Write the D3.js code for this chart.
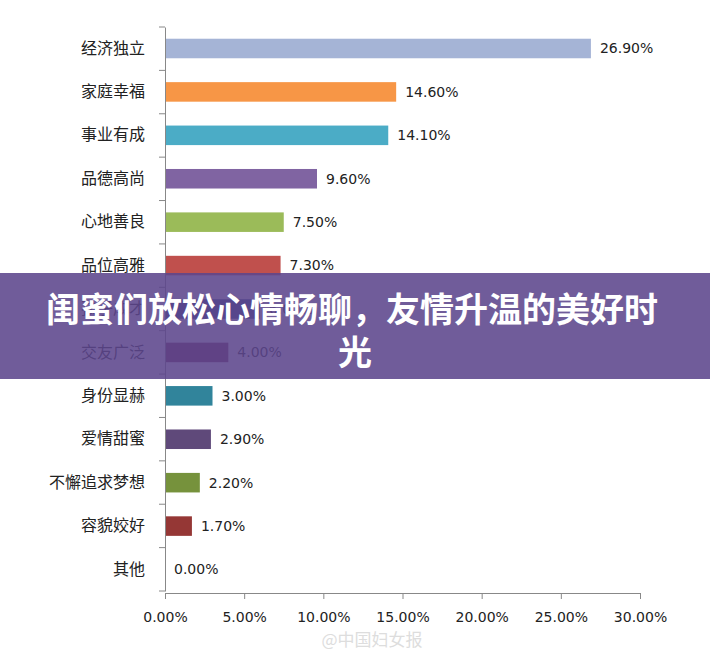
<!DOCTYPE html><html><head><meta charset="utf-8"><script src="https://cdn.jsdelivr.net/npm/d3@7"></script>
<style>body{margin:0;background:#fff;font-family:"Noto Sans CJK SC",sans-serif}</style></head><body><svg id="c" width="710" height="655"></svg>
<script>
const categories=["经济独立","家庭幸福","事业有成","品德高尚","心地善良","品位高雅","孩子成才","交友广泛","身份显赫","爱情甜蜜","不懈追求梦想","容貌姣好","其他"];
const values=[26.9,14.6,14.1,9.6,7.5,7.3,6.0,4.0,3.0,2.9,2.2,1.7,0.0];
const colors=["#a5b4d6","#f79646","#4bacc6","#8064a2","#9bbb59","#c0504d","#2c4d8f","#7a2f50","#31849b","#5f497a","#76923c","#953735","#999"];
const ticks=[0,5,10,15,20,25,30];
const svg=d3.select("#c");
const x=d3.scaleLinear().domain([0,30]).range([165,640]);
const y=d3.scaleBand().domain(categories).range([27,591]).paddingInner(0.55).paddingOuter(0.27);
const g=svg.append("g");
g.selectAll("rect.b").data(values).join("rect").attr("x",x(0)).attr("y",(d,i)=>y(categories[i])).attr("width",d=>x(d)-x(0)).attr("height",y.bandwidth()).attr("fill",(d,i)=>colors[i]);
g.selectAll("text.v").data(values).join("text").attr("x",d=>x(d)+9).attr("y",(d,i)=>y(categories[i])+y.bandwidth()/2).attr("dy","0.35em").attr("font-size",14).attr("font-family","DejaVu Sans, sans-serif").attr("fill","#222").text(d=>d.toFixed(2)+"%");
const ya=d3.axisLeft(y).tickSize(0).tickPadding(20);
const ay=svg.append("g").attr("transform","translate(165,0)").call(ya);
ay.select(".domain").attr("stroke","#888");
ay.selectAll("text").attr("font-size",16).attr("fill","#222").attr("font-family","Noto Sans CJK SC");
const step=(591-27)/13;
svg.selectAll("line.t").data(d3.range(14)).join("line").attr("x1",159).attr("x2",165).attr("y1",d=>27+d*step).attr("y2",d=>27+d*step).attr("stroke","#888");
const xa=d3.axisBottom(x).tickValues(ticks).tickSize(6).tickFormat(d=>d.toFixed(2)+"%");
const ax=svg.append("g").attr("transform","translate(0,593)").call(xa);
ax.selectAll("path,line").attr("stroke","#888");
ax.selectAll("text").attr("font-size",14).attr("dy","1.4em").attr("fill","#222").attr("font-family","DejaVu Sans, sans-serif");
svg.append("text").attr("x",372).attr("y",646).attr("text-anchor","middle").attr("font-size",17).attr("fill","#ddd").text("@中国妇女报");
svg.append("rect").attr("x",0).attr("y",273).attr("width",710).attr("height",106).attr("fill","rgba(92,70,140,0.88)");
svg.append("text").attr("x",352).attr("y",322).attr("text-anchor","middle").attr("font-size",34).attr("font-weight","bold").attr("fill","#fff").text("闺蜜们放松心情畅聊，友情升温的美好时");
svg.append("text").attr("x",355).attr("y",365).attr("text-anchor","middle").attr("font-size",34).attr("font-weight","bold").attr("fill","#fff").text("光");
</script></body></html>
